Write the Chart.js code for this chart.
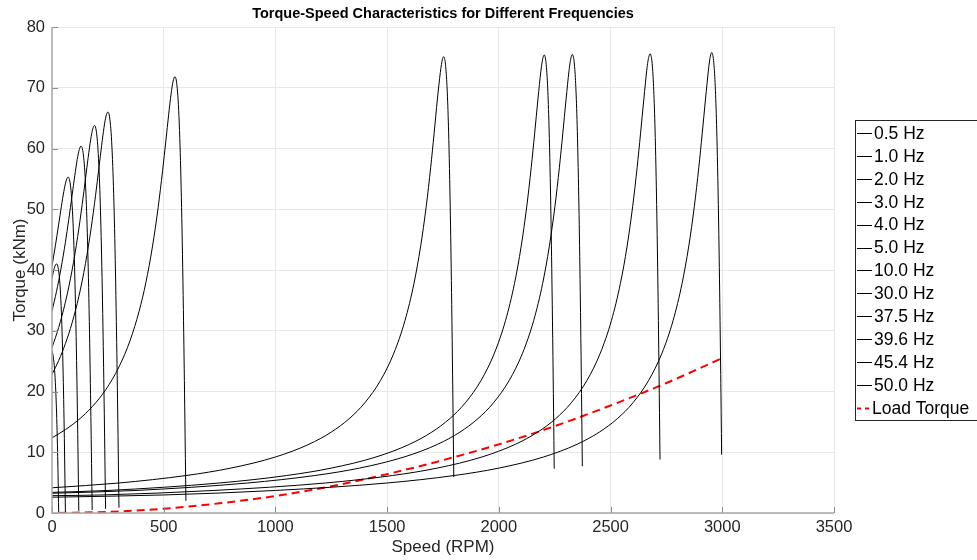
<!DOCTYPE html>
<html>
<head>
<meta charset="utf-8">
<script src="https://cdn.jsdelivr.net/npm/chart.js@4.4.1/dist/chart.umd.min.js"></script>
<style>
  html, body { margin: 0; padding: 0; background: #ffffff; }
  #wrap { width: 977px; height: 560px; position: relative; }
</style>
</head>
<body>
<div id="wrap"><canvas id="chart" width="977" height="560"></canvas></div>
<script>
// Torque (kNm) against shaft speed (RPM) for each supply frequency.
const frequencyLabels = ['0.5 Hz', '1.0 Hz', '2.0 Hz', '3.0 Hz', '4.0 Hz', '5.0 Hz',
                         '10.0 Hz', '30.0 Hz', '37.5 Hz', '39.6 Hz', '45.4 Hz', '50.0 Hz'];

const speed_0_5 = [0, 5, 10, 15, 19, 22, 25, 27, 29.97];
const torque_0_5 = [26.72, 25.91, 24.30, 21.51, 18.08, 14.59, 10.12, 6.50, 0.07];

const speed_1 = [0, 8, 15, 20, 26, 32, 37, 42, 46, 50, 53, 56, 59.94];
const torque_1 = [38.69, 40.01, 40.80, 41.0, 40.62, 39.19, 36.87, 33.06, 28.65, 22.73, 17.16, 10.53, 0.17];

const speed_2 = [0, 15, 30, 42, 53, 62, 72, 78, 84, 89, 94, 98, 102, 106, 110, 113, 116, 119.88];
const torque_2 = [40.66, 43.97, 47.54, 50.46, 52.93, 54.51, 55.30, 54.90, 53.52, 51.32, 47.87, 44.03, 39.03, 32.75, 25.10, 18.43, 10.99, 0.35];

const speed_3 = [0, 20, 40, 60, 75, 90, 102, 113, 122, 130, 136, 142, 147, 152, 156, 160, 164, 168, 171, 174, 177, 179.82];
const torque_3 = [33.25, 36.43, 40.18, 44.56, 48.30, 52.30, 55.54, 58.22, 59.82, 60.39, 59.97, 58.46, 56.12, 52.49, 48.52, 43.41, 37.09, 29.51, 23.01, 15.87, 8.16, 0.50];

const speed_4 = [0, 30, 60, 90, 115, 135, 150, 162, 173, 182, 190, 196, 202, 207, 212, 216, 220, 224, 228, 231, 234, 237, 239.76];
const torque_4 = [27.23, 30.55, 34.70, 39.99, 45.51, 50.75, 55.05, 58.54, 61.44, 63.17, 63.79, 63.34, 61.70, 59.17, 55.26, 50.98, 45.51, 38.78, 30.75, 23.91, 16.44, 8.42, 0.69];

const speed_5 = [0, 30, 60, 90, 120, 150, 175, 195, 210, 222, 233, 242, 250, 256, 262, 267, 272, 276, 280, 284, 288, 291, 294, 297, 299.7];
const torque_5 = [22.81, 25.10, 27.88, 31.31, 35.61, 41.10, 46.84, 52.31, 56.81, 60.47, 63.52, 65.35, 66.0, 65.52, 63.80, 61.14, 57.03, 52.55, 46.84, 39.84, 31.52, 24.46, 16.78, 8.58, 0.87];

const speed_10 = [0, 60, 120, 180, 240, 300, 350, 390, 420, 450, 475, 495, 510, 522, 533, 542, 550, 556, 562, 567, 572, 576, 580, 584, 588, 591, 594, 597, 599.4];
const torque_10 = [12.38, 13.72, 15.38, 17.50, 20.27, 24.06, 28.45, 33.23, 37.91, 43.93, 50.27, 56.35, 61.40, 65.54, 68.98, 71.07, 71.81, 71.27, 69.30, 66.29, 61.65, 56.63, 50.27, 42.54, 33.46, 25.84, 17.63, 8.96, 2.0];

const speed_30 = [0, 300, 600, 800, 1000, 1150, 1250, 1330, 1400, 1470, 1530, 1580, 1620, 1650, 1675, 1695, 1710, 1725, 1738, 1743, 1748, 1753, 1756, 1760, 1764, 1767, 1770, 1773, 1776, 1780, 1783, 1786, 1789, 1791, 1793, 1795, 1798.2];
const torque_30 = [4.15, 4.94, 6.17, 7.39, 9.22, 11.31, 13.32, 15.52, 18.14, 21.80, 26.31, 31.70, 37.78, 43.93, 50.49, 56.92, 62.41, 68.16, 72.5, 73.8, 74.8, 75.1, 74.95, 74.2, 72.6, 70.9, 68.5, 65.4, 61.5, 54.9, 48.9, 42.0, 34.3, 28.6, 22.7, 16.4, 5.9];

const speed_37_5 = [0, 250, 750, 1050, 1250, 1450, 1600, 1700, 1780, 1850, 1920, 1980, 2030, 2070, 2100, 2125, 2145, 2160, 2175, 2188, 2193, 2198, 2203, 2206, 2210, 2214, 2217, 2220, 2223, 2226, 2230, 2233, 2236, 2239, 2241, 2243, 2245, 2247.75];
const torque_37_5 = [3.4, 3.71, 4.94, 6.17, 7.39, 9.22, 11.31, 13.32, 15.52, 18.14, 21.80, 26.31, 31.70, 37.78, 43.93, 50.49, 56.92, 62.41, 68.16, 72.73, 74.06, 75.04, 75.40, 75.26, 74.48, 72.9, 71.13, 68.69, 65.57, 61.64, 55.07, 49.07, 42.17, 34.37, 28.72, 22.74, 16.48, 7.3];

const speed_39_6 = [0, 376, 876, 1176, 1376, 1576, 1726, 1826, 1906, 1976, 2046, 2106, 2156, 2196, 2226, 2251, 2271, 2286, 2301, 2314, 2319, 2324, 2329, 2332, 2336, 2340, 2343, 2346, 2349, 2352, 2356, 2359, 2362, 2365, 2367, 2369, 2371, 2373.6];
const torque_39_6 = [3.25, 3.71, 4.94, 6.17, 7.39, 9.22, 11.31, 13.32, 15.52, 18.14, 21.80, 26.31, 31.70, 37.78, 43.93, 50.49, 56.92, 62.41, 68.16, 72.8, 74.2, 75.1, 75.5, 75.3, 74.6, 73.0, 71.2, 68.8, 65.7, 61.7, 55.1, 49.1, 42.2, 34.4, 28.7, 22.7, 16.5, 7.7];

const speed_45_4 = [0, 224, 724, 1224, 1524, 1724, 1924, 2074, 2174, 2254, 2324, 2394, 2454, 2504, 2544, 2574, 2599, 2619, 2634, 2649, 2662, 2667, 2672, 2677, 2680, 2684, 2688, 2691, 2694, 2697, 2700, 2704, 2707, 2710, 2713, 2715, 2717, 2719, 2721.3];
const torque_45_4 = [2.85, 2.97, 3.71, 4.94, 6.17, 7.39, 9.22, 11.31, 13.32, 15.52, 18.14, 21.80, 26.31, 31.70, 37.78, 43.93, 50.49, 56.92, 62.41, 68.16, 72.9, 74.3, 75.2, 75.6, 75.4, 74.7, 73.1, 71.3, 68.9, 65.8, 61.8, 55.2, 49.2, 42.3, 34.5, 28.8, 22.8, 16.5, 8.8];

const speed_50 = [0, 500, 1000, 1500, 1800, 2000, 2200, 2350, 2450, 2530, 2600, 2670, 2730, 2780, 2820, 2850, 2875, 2895, 2910, 2925, 2938, 2943, 2948, 2953, 2956, 2960, 2964, 2967, 2970, 2973, 2976, 2980, 2983, 2986, 2989, 2991, 2993, 2995, 2997];
const torque_50 = [2.6, 2.97, 3.71, 4.94, 6.17, 7.39, 9.22, 11.31, 13.32, 15.52, 18.14, 21.80, 26.31, 31.70, 37.78, 43.93, 50.49, 56.92, 62.41, 68.16, 72.9, 74.4, 75.4, 75.8, 75.6, 74.8, 73.2, 71.4, 68.9, 65.8, 61.8, 55.2, 49.2, 42.3, 34.5, 28.8, 22.8, 16.5, 9.6];

// Fan-type load torque demand.
const loadLabel = 'Load Torque';
const loadSpeed = [30, 250, 500, 750, 1000, 1250, 1500, 1750, 2000, 2250, 2500, 2750, 3000];
const loadTorque = [0.0, 0.18, 0.7, 1.6, 2.8, 4.4, 6.4, 8.7, 11.3, 14.3, 17.7, 21.4, 25.5];

// Axis ticks
const speedTicks = [0, 500, 1000, 1500, 2000, 2500, 3000, 3500];
const torqueTicks = [0, 10, 20, 30, 40, 50, 60, 70, 80];

const curveSpeeds = [speed_0_5, speed_1, speed_2, speed_3, speed_4, speed_5,
                     speed_10, speed_30, speed_37_5, speed_39_6, speed_45_4, speed_50];
const curveTorques = [torque_0_5, torque_1, torque_2, torque_3, torque_4, torque_5,
                      torque_10, torque_30, torque_37_5, torque_39_6, torque_45_4, torque_50];

const toPoints = (xs, ys) => xs.map((x, i) => ({ x: x, y: ys[i] }));

const FONT = "'Liberation Sans', Arial, Helvetica, sans-serif";

const datasets = frequencyLabels.map((label, i) => ({
  label: label,
  data: toPoints(curveSpeeds[i], curveTorques[i]),
  borderColor: '#000000',
  borderWidth: 1,
  pointRadius: 0,
  cubicInterpolationMode: 'monotone',
  fill: false
}));
datasets.push({
  label: loadLabel,
  data: toPoints(loadSpeed, loadTorque),
  borderColor: '#ff0000',
  borderWidth: 2,
  borderDash: [8, 5],
  pointRadius: 0,
  cubicInterpolationMode: 'monotone',
  fill: false
});

// Inward tick marks and axis lines on the left and bottom edges.
const axisFrame = {
  id: 'axisFrame',
  afterDatasetsDraw(chart) {
    const { ctx, chartArea: a, scales: { x, y } } = chart;
    ctx.save();
    ctx.strokeStyle = '#8c8c8c';
    ctx.lineWidth = 1;
    ctx.beginPath();
    speedTicks.forEach(v => {
      const px = Math.round(x.getPixelForValue(v)) + 0.5;
      ctx.moveTo(px, a.bottom);
      ctx.lineTo(px, a.bottom - 6);
    });
    torqueTicks.forEach(v => {
      const py = Math.round(y.getPixelForValue(v)) + 0.5;
      ctx.moveTo(a.left, py);
      ctx.lineTo(a.left + 6, py);
    });
    ctx.stroke();
    ctx.lineWidth = 1.5;
    ctx.strokeStyle = '#a8a8a8';
    ctx.beginPath();
    ctx.moveTo(a.left, a.top);
    ctx.lineTo(a.left, a.bottom);
    ctx.lineTo(a.right, a.bottom);
    ctx.stroke();
    ctx.restore();
  }
};

// Boxed legend to the right of the axes.
const boxedLegend = {
  id: 'boxedLegend',
  afterDraw(chart) {
    const { ctx } = chart;
    const left = 855, top = 120, rowH = 22.9, firstRow = 133;
    ctx.save();
    ctx.fillStyle = '#ffffff';
    ctx.fillRect(left, top, 140, 300);
    ctx.strokeStyle = '#262626';
    ctx.lineWidth = 1;
    ctx.strokeRect(left + 0.5, top + 0.5, 140, 300);
    ctx.font = '17.5px ' + FONT;
    ctx.textBaseline = 'middle';
    ctx.fillStyle = '#000000';
    chart.data.datasets.forEach((ds, i) => {
      const cy = firstRow + i * rowH;
      const isDashed = !!ds.borderDash;
      ctx.beginPath();
      ctx.strokeStyle = ds.borderColor;
      ctx.lineWidth = ds.borderWidth;
      if (isDashed) {
        ctx.setLineDash([4, 4]);
        ctx.moveTo(left + 2, Math.round(cy) + 0.5);
        ctx.lineTo(left + 16, Math.round(cy) + 0.5);
      } else {
        ctx.setLineDash([]);
        ctx.moveTo(left + 2, Math.round(cy) + 0.5);
        ctx.lineTo(left + 17, Math.round(cy) + 0.5);
      }
      ctx.stroke();
      ctx.setLineDash([]);
      ctx.fillText(ds.label, isDashed ? left + 17 : left + 19, cy + 1);
    });
    ctx.restore();
  }
};

new Chart(document.getElementById('chart'), {
  type: 'line',
  data: { datasets: datasets },
  options: {
    responsive: false,
    animation: false,
    devicePixelRatio: 1,
    layout: { padding: { left: 0, right: 143, top: 0, bottom: 0 } },
    plugins: {
      legend: { display: false },
      tooltip: { enabled: false },
      title: {
        display: true,
        fullSize: false,
        text: 'Torque-Speed Characteristics for Different Frequencies',
        color: '#000000',
        font: { family: FONT, size: 14.5, weight: 'bold' },
        padding: { top: 5, bottom: 4.6 }
      }
    },
    scales: {
      x: {
        type: 'linear',
        min: 0,
        max: 3500,
        afterBuildTicks: s => { s.ticks = speedTicks.map(v => ({ value: v })); },
        afterFit: s => { s.height = 47; },
        grid: { color: '#e8e8e8', drawTicks: false },
        border: { display: false },
        ticks: { color: '#262626', font: { family: FONT, size: 16.5 }, padding: 5, callback: v => String(v) },
        title: {
          display: true,
          text: 'Speed (RPM)',
          color: '#262626',
          font: { family: FONT, size: 17 },
          padding: { top: 0, bottom: 2 }
        }
      },
      y: {
        type: 'linear',
        min: 0,
        max: 80,
        afterBuildTicks: s => { s.ticks = torqueTicks.map(v => ({ value: v })); },
        afterFit: s => { s.width = 52; },
        grid: { color: '#e8e8e8', drawTicks: false },
        border: { display: false },
        ticks: { color: '#262626', font: { family: FONT, size: 16.5 }, padding: 7, callback: v => String(v) },
        title: {
          display: true,
          text: 'Torque (kNm)',
          color: '#262626',
          font: { family: FONT, size: 17 },
          padding: { top: 10, bottom: 0 }
        }
      }
    }
  },
  plugins: [axisFrame, boxedLegend]
});
</script>
</body>
</html>
